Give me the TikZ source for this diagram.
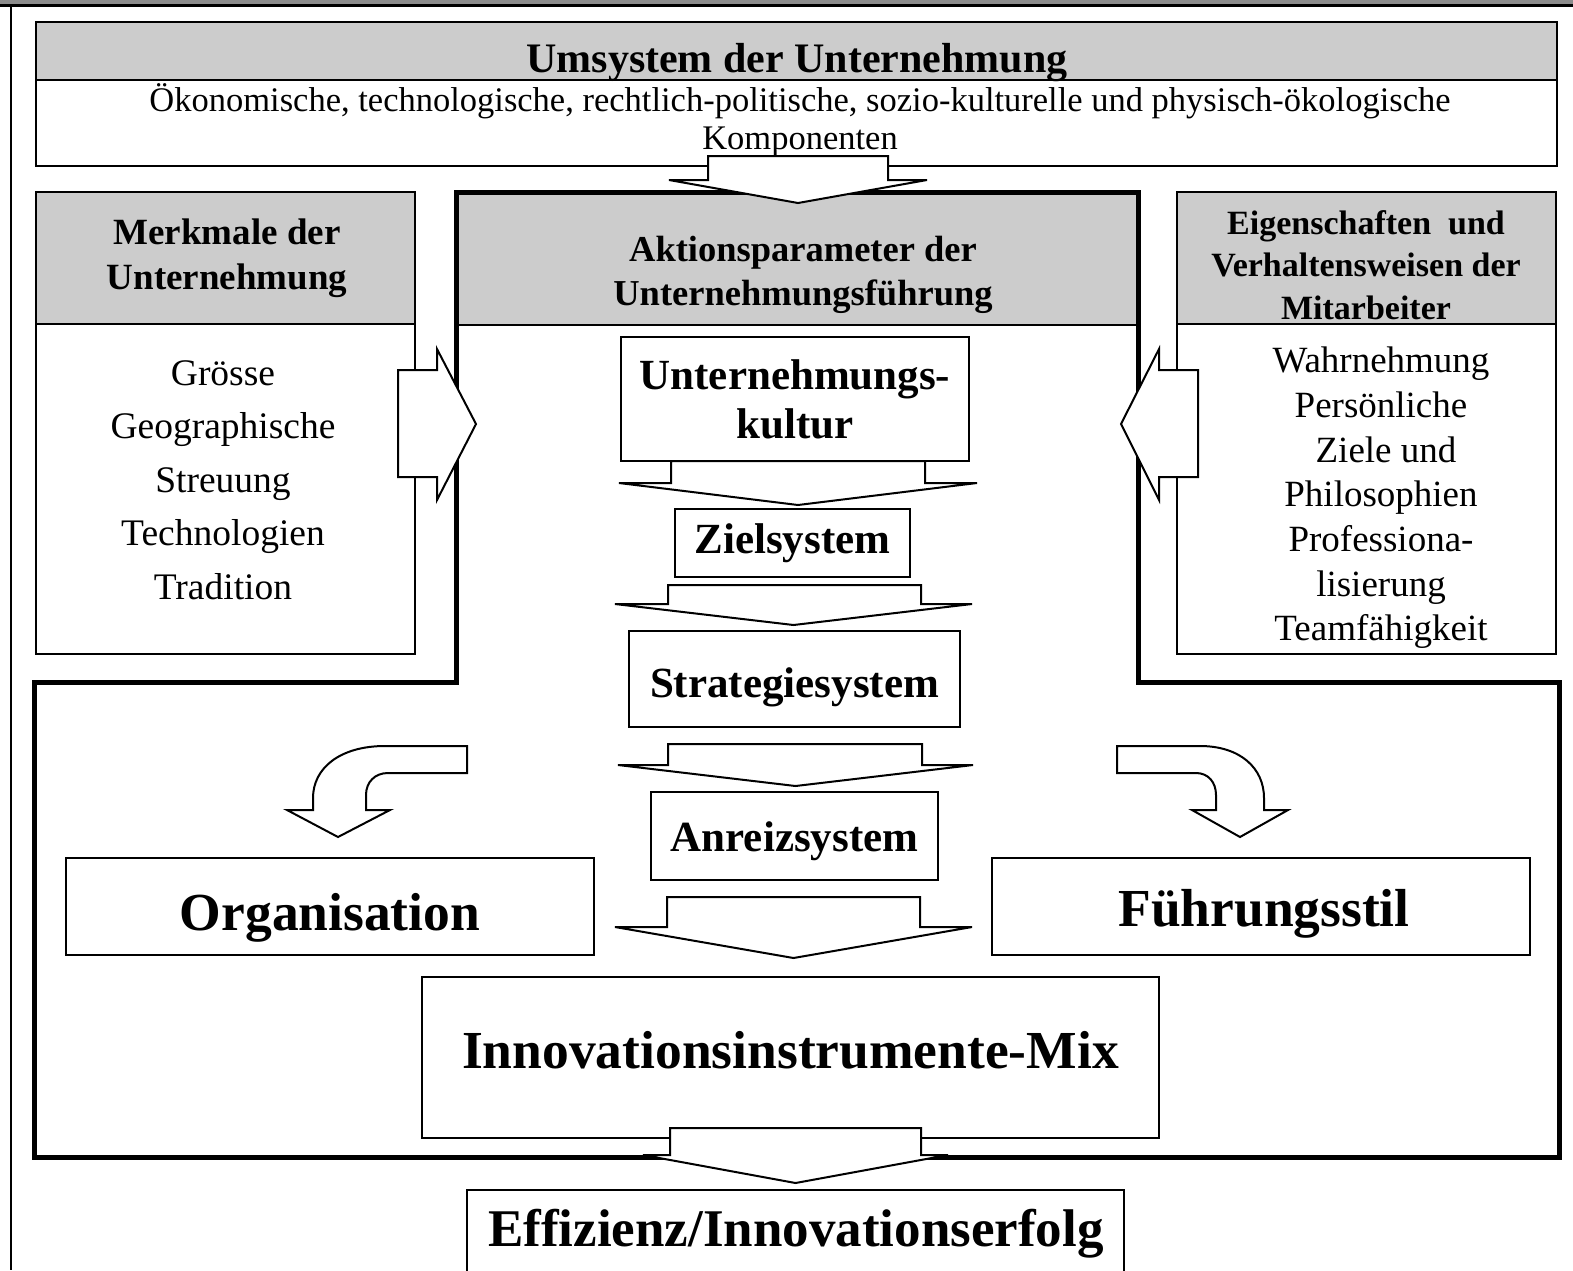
\documentclass[tikz,border=0pt]{standalone}
\usepackage{fontspec}
\setmainfont{Liberation Serif}
\definecolor{headgray}{gray}{0.8}
\definecolor{bargray}{gray}{0.55}
% text lower inside its box, box size unchanged
\newcommand{\sinktext}[2]{\raisebox{-#1}[\height][\depth]{#2}}

\begin{document}
\begin{tikzpicture}[x=1pt, y=-1pt, line join=miter,
    thinbox/.style={draw=black, line width=2pt},
    mainframe/.style={draw=black, line width=5pt},
    blockarrow/.style={draw=black, fill=white, line width=2pt},
    headtext/.style={font=\fontsize{37}{45}\selectfont\bfseries, align=center, inner sep=0pt},
    listtext/.style={font=\fontsize{37.5}{53.5}\selectfont, align=center, inner sep=0pt},
    stagebox/.style={thinbox, font=\fontsize{43}{49}\selectfont\bfseries, align=center, inner sep=0pt},
    bigbox/.style={thinbox, font=\fontsize{53.5}{60}\selectfont\bfseries, inner sep=0pt}]
    \useasboundingbox (0,0) rectangle (1573,1270);

    % page edge
    \fill[bargray] (0,0) rectangle (1573,4);
    \draw[line width=2.5pt] (0,5.5) -- (1573,5.5);
    \draw[line width=2pt] (11,5) -- (11,1270);

    % Umsystem
    \fill[headgray] (36,22) rectangle (1557,80);
    \draw[thinbox] (36,22) rectangle (1557,166);
    \draw[thinbox] (36,80) -- (1557,80);
    \node[headtext, font=\fontsize{42}{48}\selectfont\bfseries] (umsystem) at (797,63) {Umsystem der Unternehmung};
    \node[listtext, font=\fontsize{34.5}{38}\selectfont] (komponenten) at (800,120)
        {Ökonomische, technologische, rechtlich-politische, sozio-kulturelle und physisch-ökologische\\Komponenten};

    % Merkmale (links)
    \fill[headgray] (36,192) rectangle (415,324);
    \draw[thinbox] (36,192) rectangle (415,654);
    \draw[thinbox] (36,324) -- (415,324);
    \node[headtext] (merkmale) at (227,258) {Merkmale der\\Unternehmung};
    \node[listtext] (merkmalliste) at (223,480) {Grösse\\Geographische\\Streuung\\Technologien\\Tradition};

    % Eigenschaften (rechts)
    \fill[headgray] (1177,192) rectangle (1556,324);
    \draw[thinbox] (1177,192) rectangle (1556,654);
    \draw[thinbox] (1177,324) -- (1556,324);
    \node[headtext, font=\fontsize{34}{42.5}\selectfont\bfseries] (eigenschaften) at (1366,265)
        {Eigenschaften\ \ und\\Verhaltensweisen der\\Mitarbeiter};
    \node[listtext, font=\fontsize{37}{44.7}\selectfont] (verhaltensliste) at (1381,498)
        {Wahrnehmung\\Persönliche\\\hspace*{10pt}Ziele und\\Philosophien\\Professiona-\\lisierung\\Teamfähigkeit};

    % Aktionsparameter
    \fill[headgray] (456,192) rectangle (1138,325);
    \draw[thinbox] (456,325) -- (1138,325);
    \draw[mainframe] (456,682) -- (456,192) -- (1138,192) -- (1138,682) -- (1559,682)
        -- (1559,1157) -- (34,1157) -- (34,682) -- cycle;
    \node[headtext, font=\fontsize{36.5}{44}\selectfont\bfseries] (aktion) at (803,275)
        {Aktionsparameter der\\Unternehmungsführung};

    % stages
    \node[stagebox, minimum width=348pt, minimum height=124pt] (kultur) at (795,399) {Unternehmungs-\\kultur};
    \node[stagebox, minimum width=235pt, minimum height=68pt] (ziel) at (792.5,543) {Zielsystem};
    \node[stagebox, minimum width=331pt, minimum height=96pt] (strategie) at (794.5,679) {\sinktext{8pt}{Strategiesystem}};
    \node[stagebox, minimum width=287pt, minimum height=88pt] (anreiz) at (794.5,836) {\sinktext{5pt}{Anreizsystem}};
    \node[bigbox, minimum width=528pt, minimum height=97pt] (organisation) at (330,906.5) {\sinktext{11pt}{Organisation}};
    \node[bigbox, minimum width=538pt, minimum height=97pt] (fuehrung) at (1261,906.5) {\sinktext{7pt}{\hspace*{6pt}Führungsstil}};
    \node[bigbox, minimum width=737pt, minimum height=161pt] (mix) at (790.5,1057.5) {\sinktext{-7pt}{Innovationsinstrumente-Mix}};
    \draw[thinbox] (467,1285) -- (467,1190) -- (1124,1190) -- (1124,1285);
    \node[font=\fontsize{53}{60}\selectfont\bfseries, inner sep=0pt] (erfolg) at (796,1234) {Effizienz/Innovationserfolg};

    % down arrows
    \foreach \sl/\sr/\st/\wy/\wl/\wr/\ty in {708/888/156/180/669/927/203, 671/925/461/483/619/977/505,
        668/921/585/604/615/972/625, 668/922/744/765/618/973/786, 667/920/897/927/615/972/958,
        670/921/1128/1155/643/948/1183}
        \draw[blockarrow] (\sl,\st) -- (\sr,\st) -- (\sr,\wy) -- (\wr,\wy) -- ({(\wl+\wr)/2},\ty)
            -- (\wl,\wy) -- (\sl,\wy) -- cycle;

    % side arrows
    \draw[blockarrow] (398,370) -- (437,370) -- (437,349) -- (476,424) -- (437,500) -- (437,477) -- (398,477) -- cycle;
    \draw[blockarrow] (1198,370) -- (1159,370) -- (1159,349) -- (1121,424) -- (1159,500) -- (1159,477) -- (1198,477) -- cycle;

    % curved arrows
    \draw[blockarrow] (467,746) -- (385,746) .. controls (340,746) and (313,768) .. (313,798)
        -- (313,810) -- (287,810) -- (338,837) -- (390,810) -- (366,810) -- (366,795)
        .. controls (366,782) and (375,773) .. (388,773) -- (467,773) -- cycle;
    \draw[blockarrow] (1117,746) -- (1200,746) .. controls (1240,746) and (1264,768) .. (1264,798)
        -- (1264,810) -- (1288,810) -- (1240,837) -- (1192,810) -- (1216,810) -- (1216,795)
        .. controls (1216,782) and (1208,773) .. (1196,773) -- (1117,773) -- cycle;
\end{tikzpicture}
\end{document}
